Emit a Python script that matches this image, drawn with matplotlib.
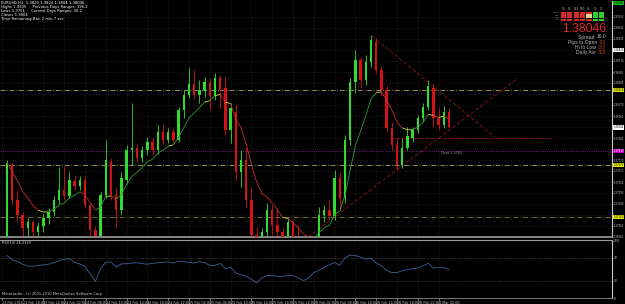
import matplotlib
matplotlib.use('Agg')
import matplotlib.pyplot as plt
import matplotlib.transforms as mtransforms
from matplotlib.collections import LineCollection
from matplotlib.patches import Rectangle
import numpy as np
import pandas as pd

# ---------------- data (EURUSD H1) ----------------
opens = [1.3687, 1.3767, 1.3732, 1.3717, 1.3704, 1.3710, 1.3700, 1.3706, 1.3714, 1.3720,
         1.3732, 1.3742, 1.3736, 1.3751, 1.3746, 1.3752, 1.3727, 1.3702, 1.3696, 1.3737,
         1.3770, 1.3737, 1.3722, 1.3752, 1.3782, 1.3784, 1.3774, 1.3782, 1.3790, 1.3782,
         1.3800, 1.3792, 1.3800, 1.3792, 1.3822, 1.3837, 1.3848, 1.3837, 1.3842, 1.3850,
         1.3836, 1.3854, 1.3844, 1.3802, 1.3820, 1.3760, 1.3772, 1.3732, 1.3697, 1.3687,
         1.3700, 1.3722, 1.3707, 1.3700, 1.3687, 1.3710, 1.3694, 1.3687, 1.3677, 1.3682,
         1.3692, 1.3717, 1.3722, 1.3716, 1.3754, 1.3734, 1.3792, 1.3850, 1.3872, 1.3852,
         1.3870, 1.3890, 1.3862, 1.3842, 1.3804, 1.3787, 1.3767, 1.3784, 1.3794, 1.3802,
         1.3814, 1.3825, 1.3844, 1.3814, 1.3807, 1.3820]
highs = [1.3772, 1.3770, 1.3742, 1.3720, 1.3714, 1.3712, 1.3710, 1.3718, 1.3724, 1.3736,
         1.3765, 1.3766, 1.3760, 1.3756, 1.3756, 1.3756, 1.3728, 1.3706, 1.3740, 1.3792,
         1.3774, 1.3744, 1.3760, 1.3787, 1.3829, 1.3788, 1.3786, 1.3795, 1.3795, 1.3807,
         1.3808, 1.3804, 1.3804, 1.3825, 1.3842, 1.3865, 1.3862, 1.3852, 1.3855, 1.3854,
         1.3859, 1.3857, 1.3855, 1.3829, 1.3827, 1.3782, 1.3785, 1.3745, 1.3705, 1.3704,
         1.3729, 1.3727, 1.3724, 1.3704, 1.3714, 1.3712, 1.3707, 1.3692, 1.3690, 1.3696,
         1.3725, 1.3727, 1.3732, 1.3762, 1.3759, 1.3797, 1.3854, 1.3882, 1.3875, 1.3877,
         1.3897, 1.3894, 1.3866, 1.3846, 1.3810, 1.3794, 1.3794, 1.3805, 1.3805, 1.3817,
         1.3829, 1.3852, 1.3848, 1.3824, 1.3826, 1.3824]
lows = [1.3682, 1.3727, 1.3710, 1.3696, 1.3694, 1.3692, 1.3690, 1.3700, 1.3708, 1.3716,
        1.3728, 1.3732, 1.3734, 1.3742, 1.3742, 1.3724, 1.3696, 1.3687, 1.3690, 1.3734,
        1.3732, 1.3705, 1.3718, 1.3748, 1.3767, 1.3770, 1.3770, 1.3777, 1.3777, 1.3778,
        1.3788, 1.3789, 1.3789, 1.3790, 1.3814, 1.3834, 1.3833, 1.3829, 1.3835, 1.3822,
        1.3832, 1.3824, 1.3797, 1.3789, 1.3752, 1.3745, 1.3725, 1.3687, 1.3680, 1.3677,
        1.3695, 1.3697, 1.3692, 1.3677, 1.3682, 1.3684, 1.3677, 1.3670, 1.3670, 1.3674,
        1.3687, 1.3710, 1.3712, 1.3712, 1.3722, 1.3729, 1.3787, 1.3839, 1.3844, 1.3847,
        1.3865, 1.3859, 1.3837, 1.3800, 1.3782, 1.3762, 1.3764, 1.3782, 1.3790, 1.3799,
        1.3810, 1.3822, 1.3805, 1.3802, 1.3804, 1.3804]
closes = [1.3769, 1.3732, 1.3717, 1.3704, 1.3710, 1.3700, 1.3706, 1.3714, 1.3720, 1.3732,
          1.3742, 1.3736, 1.3752, 1.3746, 1.3752, 1.3727, 1.3702, 1.3696, 1.3737, 1.3772,
          1.3737, 1.3722, 1.3754, 1.3782, 1.3784, 1.3774, 1.3782, 1.3790, 1.3782, 1.3800,
          1.3792, 1.3800, 1.3792, 1.3822, 1.3837, 1.3848, 1.3837, 1.3842, 1.3850, 1.3836,
          1.3854, 1.3842, 1.3802, 1.3824, 1.3760, 1.3772, 1.3732, 1.3697, 1.3687, 1.3700,
          1.3722, 1.3707, 1.3700, 1.3687, 1.3710, 1.3694, 1.3687, 1.3677, 1.3682, 1.3692,
          1.3717, 1.3722, 1.3716, 1.3754, 1.3734, 1.3792, 1.3850, 1.3872, 1.3852, 1.3870,
          1.3892, 1.3862, 1.3842, 1.3804, 1.3787, 1.3767, 1.3784, 1.3796, 1.3802, 1.3814,
          1.3825, 1.3846, 1.3814, 1.3807, 1.3820, 1.38046]
rsi = [74, 66.5, 64, 59, 56, 55.5, 57, 57.8, 59, 61.5,
       65, 67.5, 69, 62, 59.5, 55, 42, 29, 52, 62.5,
       63, 54, 59.5, 60, 61, 61.5, 60, 59, 60.5, 61.5,
       62.5, 63, 61, 64.5, 63.5, 62, 61, 63.5, 61.5, 57,
       57, 60.5, 51, 54, 43.5, 40.4, 38, 33, 26, 35,
       39.5, 39.5, 37.5, 37.5, 39.5, 39, 35, 30.5, 35, 44.5,
       48.5, 53.5, 58, 62, 57, 70, 75, 74, 71.5, 68,
       69, 61, 56.5, 48, 44.5, 44.5, 47.5, 50.3, 50.8, 52.5,
       56, 60.8, 52, 53, 53, 49.5]

time_labels = ["23 Feb 2010", "23 Feb 18:00", "23 Feb 22:00", "24 Feb 02:00", "24 Feb 06:00",
               "24 Feb 10:00", "24 Feb 14:00", "24 Feb 18:00", "24 Feb 22:00", "25 Feb 02:00",
               "25 Feb 06:00", "25 Feb 10:00", "25 Feb 14:00", "25 Feb 18:00", "25 Feb 22:00",
               "26 Feb 02:00", "26 Feb 06:00", "26 Feb 10:00", "26 Feb 14:00", "26 Feb 18:00",
               "26 Feb 22:00", "1 Mar 02:00"]
price_ticks = [1.39150, 1.39040, 1.38930, 1.38820, 1.38710, 1.38600, 1.38490, 1.38380,
               1.38270, 1.38160, 1.38050, 1.37940, 1.37830, 1.37720, 1.37610, 1.37500,
               1.37390, 1.37280, 1.37170, 1.37060, 1.36950]

level_lines = [1.3842, 1.3767, 1.3715]           # yellow dash-dot levels
level_colors = ['#a9a86a', '#a9a86a', '#7f7f2e']
pivot_price = 1.3781
res_line = (73.6, 105.0, 1.3794)                  # start bar, end bar, price
trend_down = ((70.2, 1.3896), (93.8, 1.3795))
trend_up = ((57.9, 1.3695), (98.3, 1.3854))
axis_marks = [(1.3929, '#12c012', 'black'), (1.3882, 'white', 'black'),
              (1.3842, '#e6e600', 'black'), (1.38046, 'white', 'black'),
              (1.3781, '#c000c0', 'white'), (1.3767, '#e6e600', 'black'),
              (1.3715, '#e6e600', 'black')]

signals = [['R', 'R', 'R', 'R', 'R', 'G', 'G'],
           ['R', 'R', 'R', 'R', 'Y', 'G', 'G'],
           ['R', 'R', 'R', 'R', 'Y', 'G', 'G'],
           ['R', 'R', 'R', 'R', 'R', 'G', 'G']]
sig_cols = ["M1", "M5", "M15", "M30", "H1", "H4", "D1"]
sig_rows = ["MACD", "STR", "EMA", "CCI"]

info_lines = [("Spread ", "16.0", '#b8b8b8'), ("Pips to Open ", "-20", '#c8402a'),
              ("Hi to Low ", "302", '#b0461e'), ("Daily Avr ", "323", '#c0401e')]
header_lines = ["EURUSD,H1  1.3820 1.3824 1.3804 1.38046",
                "Highs 1.3905     Previous Days Ranges: 196.2",
                "Lows 1.3751     Current Days Ranges: 30.2",
                "Closes 1.3804",
                "Time Remaining Bar: 2 min 7 sec"]

# ---------------- figure ----------------
W, H = 625, 304
BG = 'black'
TXT = '#c8c8c8'
plt.rcParams['font.family'] = ['DejaVu Sans']

fig = plt.figure(figsize=(W / 100, H / 100), dpi=100, facecolor=BG)


def fx(x):
    return x / W


def fy(y):
    return 1 - y / H


n = len(closes)
idx = np.arange(n)
o = np.array(opens); h = np.array(highs); l = np.array(lows); c = np.array(closes)

ax = fig.add_axes([0, fy(237), 612 / W, (237 - 1) / H])
ax.set_facecolor(BG)
ax.set_xlim(-1.35, 116.35)
ax.set_ylim(1.3695, 1.3931)

label_idx = [-1 + 4 * k for k in range(len(time_labels))]

# grid
for p in price_ticks:
    ax.axhline(p, color='#2c2c2c', lw=0.5, ls=(0, (1, 2)), zorder=0)
for xi in label_idx:
    ax.axvline(xi, color='#2c2c2c', lw=0.5, ls=(0, (1, 2)), zorder=0)

# level lines
for p, col in zip(level_lines, level_colors):
    ax.axhline(p, color=col, lw=0.6, ls=(0, (6, 2, 1, 2)), zorder=1)
ax.axhline(pivot_price, color='#5e1f5e', lw=0.8, ls=(0, (1, 1)), zorder=1)
ax.plot([res_line[0], res_line[1]], [res_line[2], res_line[2]], color='#7a1212',
        lw=0.7, ls=(0, (4, 2)), zorder=1)
for (a, b) in (trend_down, trend_up):
    ax.plot([a[0], b[0]], [a[1], b[1]], color='#7a1212', lw=0.7, ls=(0, (4, 2)), zorder=1)
ax.text(res_line[0] + 9.8, pivot_price - 0.0002, "Pivot %.4f" % pivot_price, color='#9a9a9a',
        fontsize=2.4, va='center', ha='left')

# candles
bull = c >= o
cols = np.where(bull, '#2fdc2f', '#d21414')
ax.vlines(idx, l, h, colors=cols, lw=0.6, zorder=2)
body_b = np.minimum(o, c)
body_h = np.maximum(np.abs(c - o), 0.00008)
ax.bar(idx, body_h, bottom=body_b, width=0.48, color=cols, linewidth=0, zorder=3)

# colour-changing moving average
ma = pd.Series(closes).ewm(span=8, adjust=False).mean().values
pts = np.column_stack([idx, ma])
segs = np.stack([pts[:-1], pts[1:]], axis=1)
d = np.diff(ma)
seg_cols = ['#2f9f2f' if v > 0.00018 else ('#cf2a2a' if v < -0.00018 else '#e0e040') for v in d]
ax.add_collection(LineCollection(segs, colors=seg_cols, linewidths=0.6, zorder=4))

# axis styling
for s in ['top', 'left']:
    ax.spines[s].set_visible(False)
ax.spines['bottom'].set_color('#9a9a9a')
ax.spines['bottom'].set_linewidth(1.2)
ax.spines['right'].set_color('#c8c8c8')
ax.spines['right'].set_linewidth(0.8)
ax.yaxis.tick_right()
mark_prices = [m[0] for m in axis_marks]
shown_ticks = [p for p in price_ticks if min(abs(p - m) for m in mark_prices) > 0.00045]
ax.set_yticks(shown_ticks)
ax.set_yticklabels(["%.5f" % p for p in shown_ticks])
ax.tick_params(axis='y', colors=TXT, labelsize=1.8, length=0.8, width=0.5, pad=0.3)
ax.set_xticks([])

blend = mtransforms.blended_transform_factory(ax.transAxes, ax.transData)
for p, bg, fg in axis_marks:
    ax.text(1.0022, p, "%.5f" % p, transform=blend, fontsize=1.8, color=fg, va='center',
            ha='left', clip_on=False,
            bbox=dict(boxstyle='square,pad=0.1', facecolor=bg, edgecolor='none'))

# ---------------- RSI ----------------
ax2 = fig.add_axes([0, fy(298), 612 / W, (298 - 240) / H])
ax2.set_facecolor(BG)
ax2.set_xlim(-1.35, 116.35)
ax2.set_ylim(0.43, 101.3)
for xi in label_idx:
    ax2.axvline(xi, color='#2c2c2c', lw=0.5, ls=(0, (1, 2)), zorder=0)
for lv in (30, 70):
    ax2.axhline(lv, color='#5a5a5a', lw=0.5, ls=(0, (1, 1.5)), zorder=1)
ax2.plot(idx, rsi, color='#3f5e9c', lw=0.6, zorder=3)
for s in ['left']:
    ax2.spines[s].set_visible(False)
ax2.spines['top'].set_color('#9a9a9a')
ax2.spines['top'].set_linewidth(0.8)
ax2.spines['bottom'].set_color('#8a8a8a')
ax2.spines['bottom'].set_linewidth(0.6)
ax2.spines['right'].set_color('#c8c8c8')
ax2.spines['right'].set_linewidth(0.8)
ax2.yaxis.tick_right()
ax2.set_yticks([0, 30, 70, 100])
ax2.set_yticklabels(["0", "30", "70", "100"])
ax2.tick_params(axis='y', colors=TXT, labelsize=2.2, length=0.8, width=0.5, pad=0.5)
ax2.set_xticks(label_idx)
ax2.set_xticklabels(time_labels, ha='left')
ax2.tick_params(axis='x', colors=TXT, labelsize=2.4, length=1.5, width=0.5, pad=0.5)

fig.text(fx(2), fy(243.5), "RSI(14) 46.2229", fontsize=2.6, color=TXT, va='center')
fig.text(fx(2), fy(294.5), "Metatrader - (c) 2001-2010 MetaQuotes Software Corp.",
         fontsize=2.6, color=TXT, va='center')

# ---------------- header text ----------------
for k, line in enumerate(header_lines):
    fig.text(fx(1.5), fy(3.3 + 3.9 * k), line, fontsize=2.7, color='white', va='center')

# ---------------- top-right panel ----------------
sig_color = {'R': '#d42a2a', 'G': '#2ed02e', 'Y': '#e8d890'}
for r, row in enumerate(signals):
    for j, s in enumerate(row):
        x0 = 560.7 + 6.4 * j
        y0 = 11.8 + 2.3 * r
        fig.add_artist(Rectangle((fx(x0), fy(y0 + 1.9)), 5.3 / W, 1.9 / H,
                                 transform=fig.transFigure, facecolor=sig_color[s],
                                 edgecolor='none'))
for j, name in enumerate(sig_cols):
    fig.text(fx(560.7 + 6.4 * j + 2.65), fy(9.3), name, fontsize=1.8, color='#a0a0a0',
             ha='center', va='center')
for r, name in enumerate(sig_rows):
    fig.text(fx(559.5), fy(12.8 + 2.3 * r), name, fontsize=1.6, color='#a0a0a0',
             ha='right', va='center')

fig.text(fx(606), fy(32.5), "%.5f" % closes[-1], fontsize=8.8, color='#e42a2a', ha='right',
         va='baseline', family=['Liberation Sans', 'DejaVu Sans'])

fig.canvas.draw()
renderer = fig.canvas.get_renderer()
for k, (lab, val, vcol) in enumerate(info_lines):
    yy = fy(37.0 + 5.1 * k)
    tv = fig.text(fx(606), yy, val, fontsize=3.6, color=vcol, ha='right', va='center',
                  family=['Liberation Sans', 'DejaVu Sans'])
    bb = tv.get_window_extent(renderer=renderer)
    fig.text(bb.x0 / fig.bbox.width, yy, lab, fontsize=3.6, color='#b8b8b8', ha='right',
             va='center', family=['Liberation Sans', 'DejaVu Sans'])

fig.savefig('out.png', dpi=100, facecolor=BG)
